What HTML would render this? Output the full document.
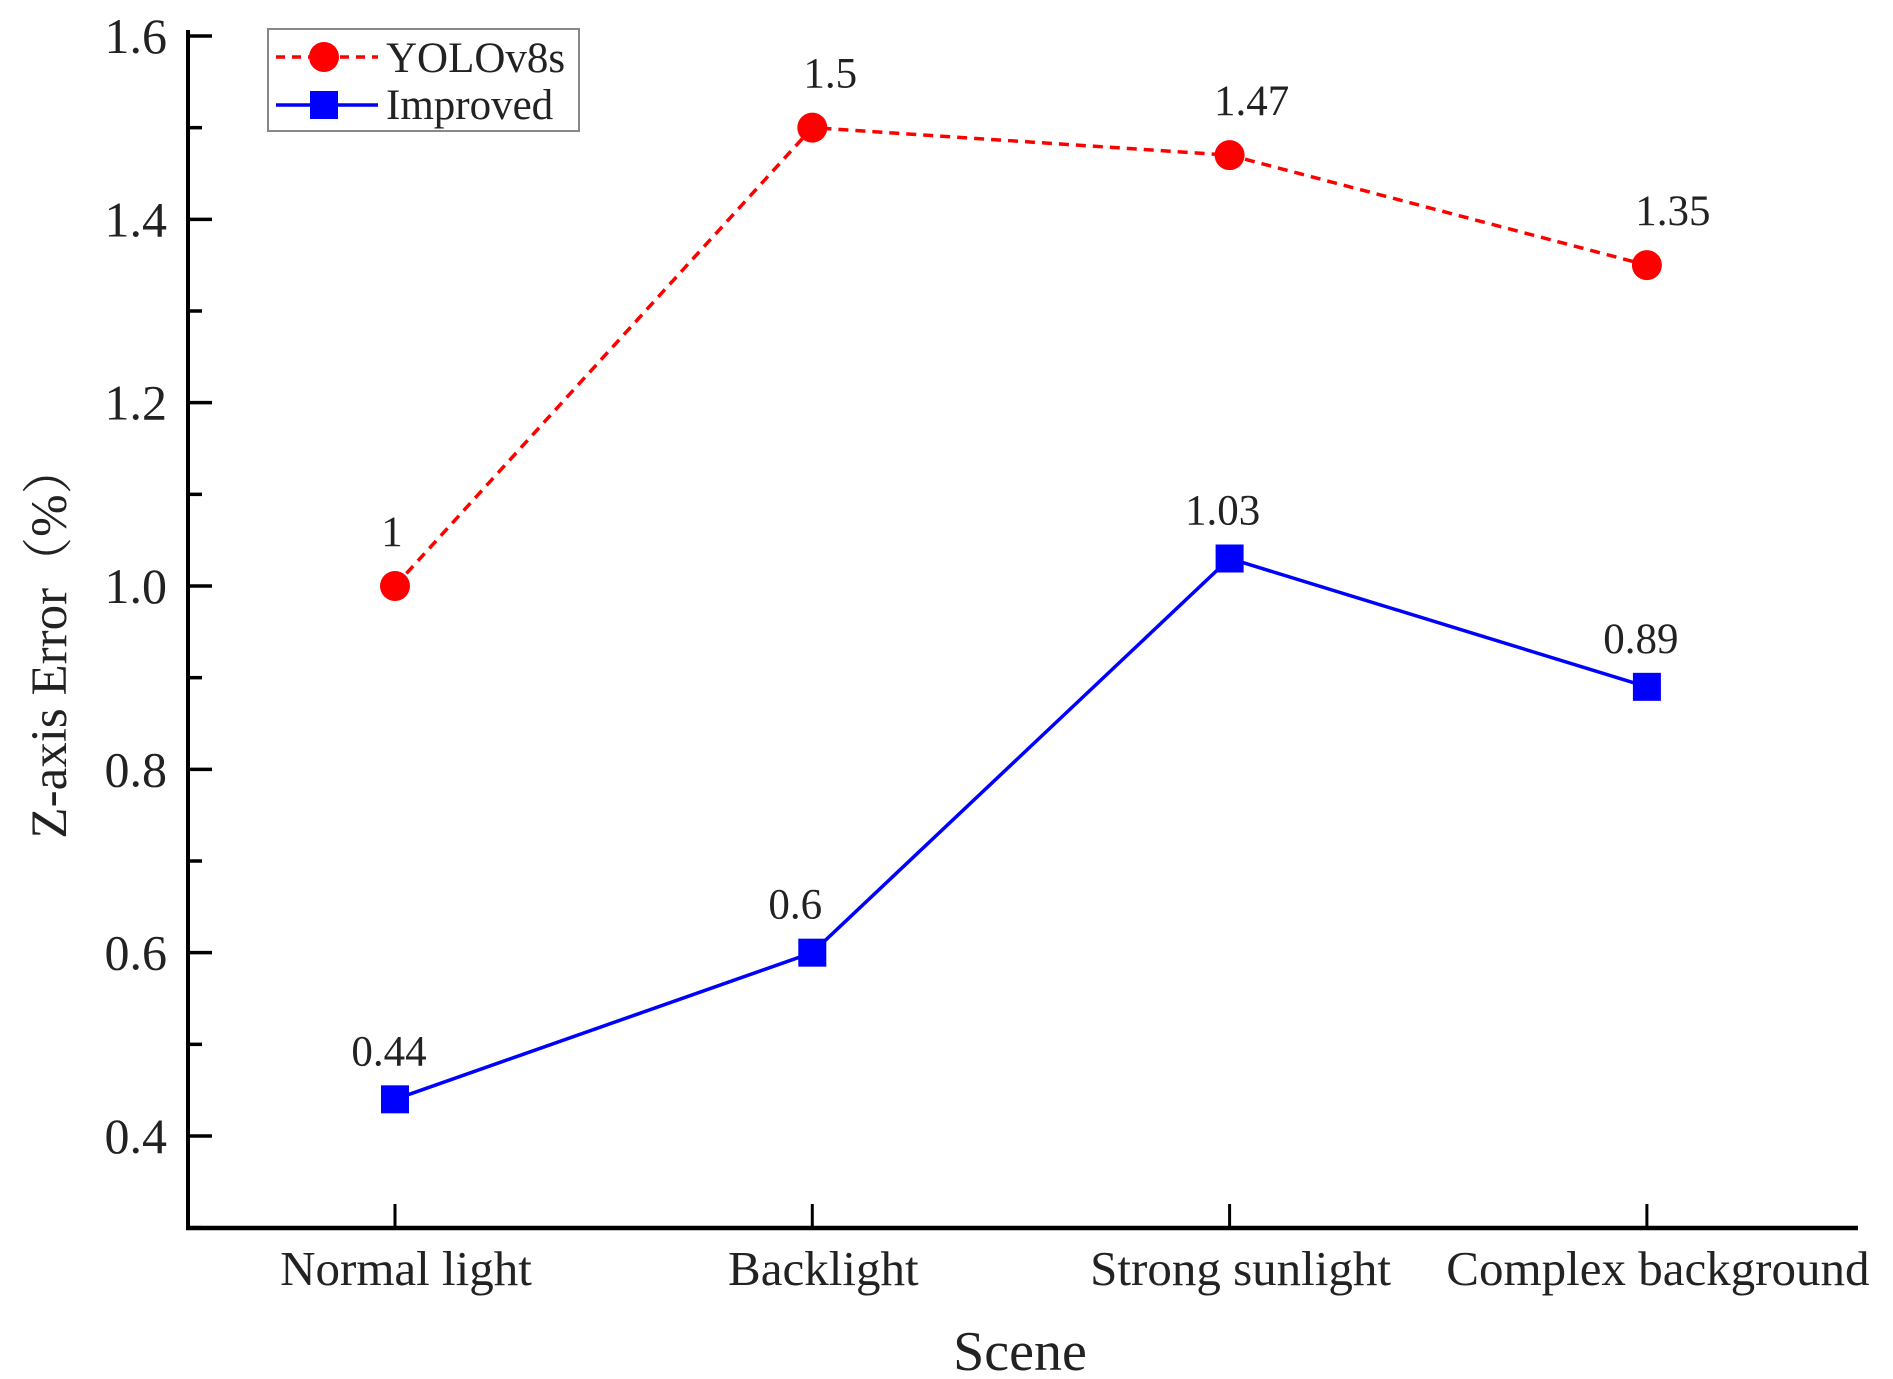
<!DOCTYPE html>
<html><head><meta charset="utf-8"><style>
html,body{margin:0;padding:0;background:#fff;}
svg{display:block;font-family:"Liberation Serif","Noto Serif CJK SC",serif;}
</style></head><body>
<svg id="chart" width="1893" height="1379" viewBox="0 0 1893 1379" xmlns="http://www.w3.org/2000/svg">
<g id="axes"></g>
<g id="series"></g>
<text transform="translate(66,641) rotate(-90)" text-anchor="middle" font-size="51" fill="#222">Z-axis Error（%）</text>
<text x="1020" y="1370" text-anchor="middle" font-size="56" fill="#222">Scene</text>
<g>
<rect x="268" y="29" width="311" height="102" fill="#fff" stroke="#888" stroke-width="2"/>
<g>
<line x1="276" y1="57" x2="378" y2="57" stroke="#ff0000" stroke-width="3.5" stroke-dasharray="9,7"/>
<circle cx="324" cy="57" r="15" fill="#ff0000"/>
<text x="386" y="72" font-size="43" fill="#222">YOLOv8s</text>
</g>
<g>
<line x1="276" y1="105" x2="378" y2="105" stroke="#0000ff" stroke-width="3.5"/>
<rect x="310" y="91" width="28" height="28" fill="#0000ff"/>
<text x="386" y="119" font-size="43" fill="#222">Improved</text>
</g>
</g>
</svg>
<script>
const categories = ["Normal light","Backlight","Strong sunlight","Complex background"];
const yoloValues = [1, 1.5, 1.47, 1.35];
const improvedValues = [0.44, 0.6, 1.03, 0.89];
const yoloLabels = ["1","1.5","1.47","1.35"];
const improvedLabels = ["0.44","0.6","1.03","0.89"];
const yTickLabels = ["0.4","0.6","0.8","1.0","1.2","1.4","1.6"];
const yTickValues = [0.4,0.6,0.8,1.0,1.2,1.4,1.6];

const NS = "http://www.w3.org/2000/svg";
const X0 = 188, X1 = 1858, YB = 1228;
const yMin = 0.4, yMax = 1.6, pyMin = 1136, pyMax = 36;
function yScale(v){ return pyMin + (v - yMin) * (pyMax - pyMin) / (yMax - yMin); }
function xScale(i){ return 395 + i * 417.3; }
function mk(tag, attrs, parent){ const e = document.createElementNS(NS, tag); for (const k in attrs) e.setAttribute(k, attrs[k]); parent.appendChild(e); return e; }

const axes = document.getElementById('axes');
const yAxis = mk('line', {x1:X0, y1:30, x2:X0, y2:YB+2, stroke:'#000', 'stroke-width':4}, axes);


const xAxis = mk('line', {x1:X0-2, y1:YB, x2:X1, y2:YB, stroke:'#000', 'stroke-width':4.5}, axes);



for (let k = 3; k <= 16; k++) {
  const v = k / 10;
  const major = k % 2 === 0;
  const t = mk('line', {x1:X0, x2:X0 + (major ? 24 : 14), y1:yScale(v), y2:yScale(v), stroke:'#000', 'stroke-width':3.5}, axes);
  
  
}
yTickValues.forEach((v, i) => {
  const t = mk('text', {x:167, y:yScale(v)+17, 'text-anchor':'end', 'font-size':50, fill:'#222'}, axes);
  t.textContent = yTickLabels[i];
  
  
});
categories.forEach((c, i) => {
  const t = mk('line', {x1:xScale(i), x2:xScale(i), y1:YB, y2:YB-24, stroke:'#000', 'stroke-width':3}, axes);
  
  
  const l = mk('text', {x:xScale(i)+11, y:1285, 'text-anchor':'middle', 'font-size':49, fill:'#222'}, axes);
  l.textContent = c;
  
  
});

const series = document.getElementById('series');
function pts(vals){ return vals.map((v,i)=>xScale(i)+','+yScale(v)).join(' '); }
const yl = mk('polyline', {points:pts(yoloValues), fill:'none', stroke:'#ff0000', 'stroke-width':3.5, 'stroke-dasharray':'10,7'}, series);


const il = mk('polyline', {points:pts(improvedValues), fill:'none', stroke:'#0000ff', 'stroke-width':3.5}, series);


const labelDx = [-3, 18, 22, 26];
const labelDx2 = [-6, -17, -7, -6];
yoloValues.forEach((v, i) => {
  const c = mk('circle', {cx:xScale(i), cy:yScale(v), r:15, fill:'#ff0000'}, series);
  
  
  const t = mk('text', {x:xScale(i)+labelDx[i], y:yScale(v)-40, 'text-anchor':'middle', 'font-size':43, fill:'#222'}, series);
  t.textContent = yoloLabels[i];
  
  
});
improvedValues.forEach((v, i) => {
  const r = mk('rect', {x:xScale(i)-14, y:yScale(v)-14, width:28, height:28, fill:'#0000ff'}, series);
  
  
  const t = mk('text', {x:xScale(i)+labelDx2[i], y:yScale(v)-34, 'text-anchor':'middle', 'font-size':43, fill:'#222'}, series);
  t.textContent = improvedLabels[i];
  
  
});
</script>
</body></html>
